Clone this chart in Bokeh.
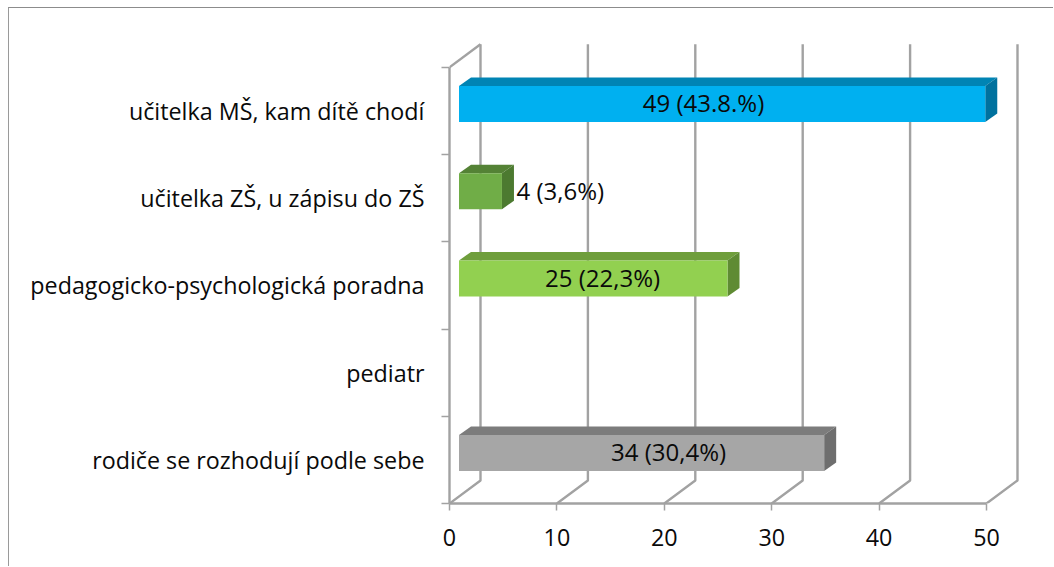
from bokeh.plotting import figure
from bokeh.models import LinearAxis, FixedTicker, Range1d
from bokeh.core.properties import value
from bokeh.embed import file_html
from bokeh.resources import INLINE

# ---- data (bottom to top) ----
categories = ["rodiče se rozhodují podle sebe", "pediatr", "pedagogicko-psychologická poradna",
              "učitelka ZŠ, u zápisu do ZŠ", "učitelka MŠ, kam dítě chodí"]
counts = [34, 0, 25, 4, 49]
labels = ["34 (30,4%)", "", "25 (22,3%)", "4 (3,6%)", "49 (43.8.%)"]
label_x = [20.4, None, 14.25, 6.24, 23.65]   # hand-placed label anchors, in value units
value_ticks = [0, 10, 20, 30, 40, 50]

# ---- styles ----
front_colors = ["#A6A6A6", "#A6A6A6", "#92D050", "#70AD47", "#00B0F0"]
top_colors = ["#7C7C7C", "#7C7C7C", "#6F9E3C", "#548235", "#0084B4"]
side_colors = ["#6E6E6E", "#6E6E6E", "#5F8B33", "#4C7A30", "#00719E"]
GRID = "#A2A2A2"
TEXT = "#0A0A0A"
FONT = "Open Sans"
FS = "23.3px"
DL_FS = "24px"

PX_X = 10.74   # pixels per value unit
PX_Y = 87.24   # pixels per category band
FRAME_W, FRAME_H = 605, 495

WALL_X, WALL_Y = 31 / PX_X, 23 / PX_Y
OFF_X, OFF_Y = 9.5 / PX_X, 7.0 / PX_Y
DEP_X, DEP_Y = 12 / PX_X, 8.5 / PX_Y
BAR_H = 36 / PX_Y

n = len(categories)
p = figure(width=1045, height=559, output_backend="svg", toolbar_location=None,
           x_range=Range1d(0, FRAME_W / PX_X), y_range=Range1d(0, FRAME_H / PX_Y),
           x_axis_type=None, y_axis_type=None,
           min_border_left=440, min_border_right=0, min_border_top=0, min_border_bottom=64,
           outline_line_color=None, background_fill_color="white", border_fill_color="white",
           styles={"border-left": "1px solid #9a9a9a", "border-top": "1px solid #8c8c8c",
                   "margin-top": "7px", "margin-left": "8px"})
p.grid.visible = False

# walls: gridlines going back on the floor and up the back wall
gx = [[t, t + WALL_X, t + WALL_X] for t in value_ticks]
gy = [[0, WALL_Y, n + WALL_Y] for t in value_ticks]
p.multi_line(gx, gy, line_color=GRID, line_width=2.4)
p.line([0, WALL_X], [n, n + WALL_Y], line_color=GRID, line_width=2.4)

# bars
idx = [i for i, c in enumerate(counts) if c > 0]
x0 = [OFF_X for i in idx]
x1 = [counts[i] + OFF_X for i in idx]
yb = [i + 0.5 + OFF_Y - BAR_H / 2 for i in idx]
yt = [i + 0.5 + OFF_Y + BAR_H / 2 for i in idx]
p.patches([[a, a + DEP_X, b + DEP_X, b] for a, b in zip(x0, x1)],
          [[t, t + DEP_Y, t + DEP_Y, t] for t in yt],
          fill_color=[top_colors[i] for i in idx], line_color=None)
p.patches([[b, b + DEP_X, b + DEP_X, b] for b in x1],
          [[l, l + DEP_Y, t + DEP_Y, t] for l, t in zip(yb, yt)],
          fill_color=[side_colors[i] for i in idx], line_color=None)
p.quad(left=x0, right=x1, bottom=yb, top=yt,
       fill_color=[front_colors[i] for i in idx], line_color=None)

# data labels
inside = [i for i in idx if counts[i] > 10]
outside = [i for i in idx if counts[i] <= 10]
p.text(x=[label_x[i] for i in inside], y=[i + 0.5 + OFF_Y for i in inside],
       text=[labels[i] for i in inside], text_font=value(FONT), text_font_size=DL_FS,
       y_offset=-1, text_align="center", text_baseline="middle", text_color=TEXT)
p.text(x=[label_x[i] for i in outside], y=[i + 0.5 + OFF_Y for i in outside],
       text=[labels[i] for i in outside], text_font=value(FONT), text_font_size=DL_FS,
       y_offset=-1, text_align="left", text_baseline="middle", text_color=TEXT)

# axes
xax = LinearAxis(ticker=FixedTicker(ticks=value_ticks), bounds=(0, 50))
xax.axis_line_color = GRID
xax.axis_line_width = 2.4
xax.major_tick_line_color = GRID
xax.major_tick_line_width = 1.5
xax.major_tick_in = 0
xax.major_tick_out = 7
xax.minor_tick_out = 0
xax.minor_tick_in = 0
xax.major_label_text_font = FONT
xax.major_label_text_font_size = FS
xax.major_label_text_color = TEXT
xax.major_label_standoff = 18
p.add_layout(xax, "below")

yax = LinearAxis(ticker=FixedTicker(ticks=[i + 0.5 for i in range(n)], minor_ticks=list(range(n + 1))),
                 bounds=(0, n))
yax.major_label_overrides = {i + 0.5: c for i, c in enumerate(categories)}
yax.axis_line_color = GRID
yax.axis_line_width = 2.4
yax.major_tick_in = 0
yax.major_tick_out = 0
yax.minor_tick_in = 0
yax.minor_tick_out = 8
yax.minor_tick_line_color = GRID
yax.minor_tick_line_width = 1.5
yax.major_label_text_font = FONT
yax.major_label_text_font_size = FS
yax.major_label_text_color = TEXT
yax.major_label_standoff = 17
p.add_layout(yax, "left")

open("out.html", "w").write(file_html(p, INLINE))
